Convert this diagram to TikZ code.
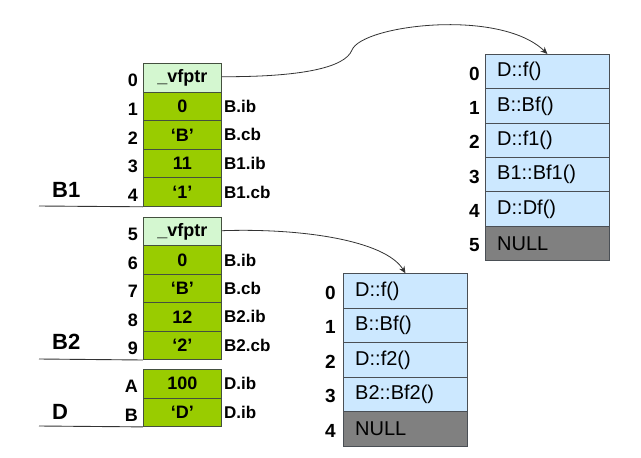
\documentclass[tikz,border=0pt]{standalone}
\usepackage{fontspec}
\setmainfont{Liberation Sans}
\usetikzlibrary{arrows.meta}
\definecolor{vfp}{HTML}{D4F7D0}
\definecolor{grn}{HTML}{99CC00}
\definecolor{vtb}{HTML}{CCE8FF}
\definecolor{nul}{HTML}{808080}
\definecolor{bd}{HTML}{44503F}
\definecolor{vbd}{HTML}{4A4F55}
\begin{document}
\begin{tikzpicture}[x=1pt,y=-1pt,
  cell/.style={draw=bd, line width=0.9pt, minimum width=78pt, minimum height=28.5pt, inner sep=0pt, anchor=north west, font=\bfseries\fontsize{18}{18}\selectfont},
  vcell/.style={draw=vbd, line width=0.9pt, minimum width=124pt, minimum height=34.35pt, inner sep=0pt, anchor=north west},
  vtxt/.style={anchor=west, inner sep=0pt, font=\fontsize{20}{20}\selectfont},
  idx/.style={anchor=east, inner sep=0pt, font=\bfseries\fontsize{18}{18}\selectfont},
  lab/.style={anchor=west, inner sep=0pt, font=\bfseries\fontsize{17}{17}\selectfont},
  grp/.style={anchor=west, inner sep=0pt, font=\bfseries\fontsize{22}{22}\selectfont},
  sep/.style={line width=0.9pt, draw=black!80},
  ptr/.style={line width=0.8pt, draw=black!80, -{Stealth[length=7pt,width=6pt]}}]
\useasboundingbox (0,0) rectangle (641,458);

% left object layout
\foreach \i/\y/\f/\t/\l in {0/63/vfp/{\_vfptr}/{},1/91.6/grn/0/B.ib,2/120.2/grn/{‘B’}/B.cb,3/148.8/grn/11/B1.ib,4/177.4/grn/{‘1’}/B1.cb,
  5/217/vfp/{\_vfptr}/{},6/245.4/grn/0/B.ib,7/273.8/grn/{‘B’}/B.cb,8/302.2/grn/12/B2.ib,9/330.6/grn/{‘2’}/B2.cb,
  A/369/grn/100/D.ib,B/397.5/grn/{‘D’}/D.ib}
{
  \node[cell, fill=\f] (L\i) at (143,\y) {\t};
  \node[idx] (i\i) at ([xshift=-5pt,yshift=-3pt]L\i.west) {\i};
  \node[lab] (l\i) at ([xshift=2pt]L\i.east) {\l};
}

\node[grp] (gB1) at (52,190) {B1};
\node[grp] (gB2) at (52,342) {B2};
\node[grp] (gD) at (52,412) {D};

\coordinate (s1) at (39,206);
\coordinate (s2) at (39,359);
\coordinate (s3) at (39,426);
\draw[sep] (s1) -- (L4.south west);
\draw[sep] (s2) -- (L9.south west);
\draw[sep] (s3) -- (LB.south west);

% vtable 1
\foreach \i/\f/\t in {0/vtb/D::f(),1/vtb/B::Bf(),2/vtb/D::f1(),3/vtb/B1::Bf1(),4/vtb/D::Df(),5/nul/NULL}
{
  \node[vcell, fill=\f] (T\i) at (485,54+34.33*\i) {};
  \node[vtxt] (t\i) at ([xshift=12pt]T\i.west) {\t};
  \node[idx, font=\bfseries\fontsize{19}{19}\selectfont] (ti\i) at ([xshift=-5pt,yshift=-2pt]T\i.west) {\i};
}

% vtable 2
\foreach \i/\f/\t in {0/vtb/D::f(),1/vtb/B::Bf(),2/vtb/D::f2(),3/vtb/B2::Bf2(),4/nul/NULL}
{
  \node[vcell, fill=\f] (U\i) at (343,273.3+34.5*\i) {};
  \node[vtxt] (u\i) at ([xshift=12pt]U\i.west) {\t};
  \node[idx, font=\bfseries\fontsize{19}{19}\selectfont] (ui\i) at ([xshift=-7pt,yshift=-2pt]U\i.west) {\i};
}

% pointers
\draw[ptr] ([yshift=1pt]L0.east) .. controls (300,77) and (345,68) .. (352,50)
  .. controls (362,25) and (500,8) .. (T0.north);
\draw[ptr] ([yshift=1pt]L5.east) .. controls (300,228) and (385,240) .. (U0.north);
\end{tikzpicture}
\end{document}
